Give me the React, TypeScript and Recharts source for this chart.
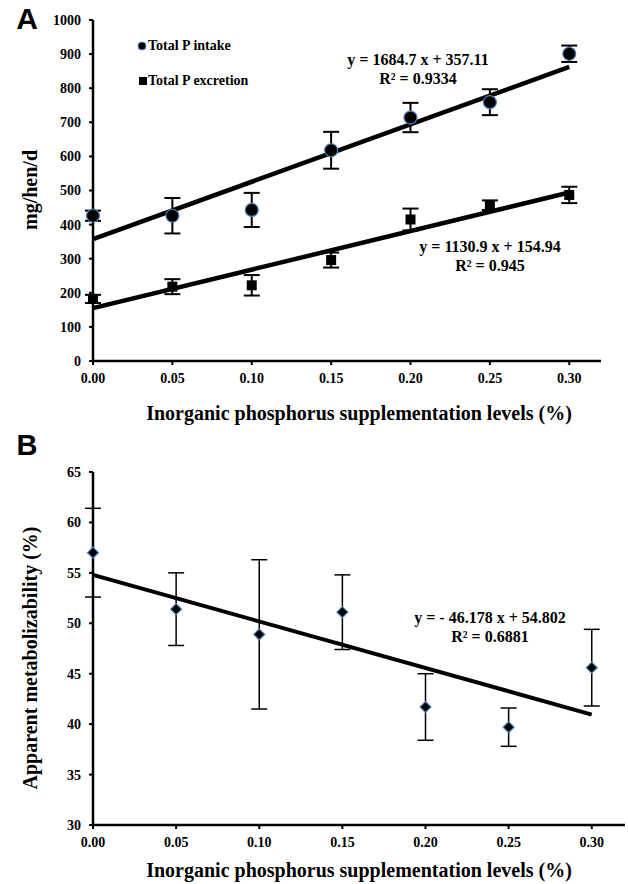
import React from "react";
import { ScatterChart, Scatter, XAxis, YAxis, ErrorBar } from "recharts";

// supplementation levels (%)
const levels = [0, 0.05, 0.1, 0.15, 0.2, 0.25, 0.3];
const xTicks = [0, 0.05, 0.1, 0.15, 0.2, 0.25, 0.3];

// panel A: mg/hen/d
const intakeMean = [426, 426, 443, 618, 714, 759, 901];
const intakeErr = [15, 52, 50, 54, 43, 38, 24];
const excretionMean = [182, 218, 222, 296, 415, 457, 487];
const excretionErr = [12, 22, 30, 22, 32, 14, 24];
const yTicksA = [0, 100, 200, 300, 400, 500, 600, 700, 800, 900, 1000];

// panel B: apparent metabolizability (%)
const amMean = [57.0, 51.4, 48.9, 51.1, 41.7, 39.7, 45.6];
const amErr = [4.4, 3.6, 7.4, 3.7, 3.3, 1.9, 3.8];
const yTicksB = [30, 35, 40, 45, 50, 55, 60, 65];

// linear trendline end points (from the printed equations)
const trendX = [0, 0.3];
const intakeTrend = [357.11, 862.52];
const excretionTrend = [154.94, 494.21];
const amTrend = [54.802, 40.949];

const toRows = (ys: number[], errs?: number[], xs: number[] = levels) =>
  xs.map((x, i) => ({ x, y: ys[i], err: errs ? errs[i] : 0 }));

const intakeData = toRows(intakeMean, intakeErr);
const excretionData = toRows(excretionMean, excretionErr);
const amData = toRows(amMean, amErr);
const intakeLine = toRows(intakeTrend, undefined, trendX);
const excretionLine = toRows(excretionTrend, undefined, trendX);
const amLine = toRows(amTrend, undefined, trendX);

const serif = '"Liberation Serif", "Times New Roman", serif';
const sans = '"Liberation Sans", Arial, sans-serif';
const edge = "#4f81bd";

const tickStyle = { fill: "#000", fontSize: 14, fontWeight: 700, fontFamily: serif };
const axisLine = { stroke: "#000", strokeWidth: 2.5 };
const tickLine = { stroke: "#000", strokeWidth: 2 };

const Circle = (p: any) => (
  <circle cx={p.cx} cy={p.cy} r={6.5} fill="#000" stroke={edge} strokeWidth={1.2} />
);
const Square = (p: any) => <rect x={p.cx - 5} y={p.cy - 5} width={10} height={10} fill="#000" />;
const Diamond = (p: any) => (
  <polygon
    points={`${p.cx},${p.cy - 5.5} ${p.cx + 5.5},${p.cy} ${p.cx},${p.cy + 5.5} ${p.cx - 5.5},${p.cy}`}
    fill="#000"
    stroke={edge}
    strokeWidth={1.2}
  />
);
const NoDot = () => <g />;

const Txt = ({ x, y, size, children, bold = true, font = serif }: any) => (
  <div
    style={{
      position: "absolute",
      left: x,
      top: y,
      transform: "translate(-50%, -50%)",
      fontFamily: font,
      fontSize: size,
      fontWeight: bold ? 700 : 400,
      lineHeight: 1,
      whiteSpace: "nowrap",
      color: "#000",
    }}
  >
    {children}
  </div>
);

const VTxt = ({ x, y, size, children }: any) => (
  <div
    style={{
      position: "absolute",
      left: x,
      top: y,
      transform: "translate(-50%, -50%) rotate(-90deg)",
      fontFamily: serif,
      fontSize: size,
      fontWeight: 700,
      lineHeight: 1,
      whiteSpace: "nowrap",
      color: "#000",
    }}
  >
    {children}
  </div>
);

const fmtX = (v: number) => v.toFixed(2);

export default function App() {
  return (
    <div style={{ position: "absolute", left: 0, top: 0, width: 628, height: 884, background: "#fff" }}>
      {/* Panel A */}
      <div style={{ position: "absolute", left: 0, top: 0 }}>
        <ScatterChart width={628} height={440} margin={{ top: 20, right: 27, bottom: 49, left: 13 }}>
          <XAxis
            type="number"
            dataKey="x"
            domain={[0, 0.32]}
            ticks={xTicks}
            tickFormatter={fmtX}
            tick={tickStyle}
            axisLine={axisLine}
            tickLine={tickLine}
            tickSize={4}
            tickMargin={8}
            height={30}
          />
          <YAxis
            type="number"
            dataKey="y"
            domain={[0, 1000]}
            ticks={yTicksA}
            tick={tickStyle}
            axisLine={axisLine}
            tickLine={tickLine}
            tickSize={4}
            tickMargin={8}
            width={80}
          />
          <Scatter data={intakeLine} shape={NoDot} line={{ stroke: "#000", strokeWidth: 4.5 }} isAnimationActive={false} />
          <Scatter data={excretionLine} shape={NoDot} line={{ stroke: "#000", strokeWidth: 4.5 }} isAnimationActive={false} />
          <Scatter data={intakeData} shape={Circle} isAnimationActive={false}>
            <ErrorBar dataKey="err" direction="y" width={8} stroke="#000" strokeWidth={2} />
          </Scatter>
          <Scatter data={excretionData} shape={Square} isAnimationActive={false}>
            <ErrorBar dataKey="err" direction="y" width={8} stroke="#000" strokeWidth={2} />
          </Scatter>
        </ScatterChart>
      </div>

      {/* Panel B */}
      <div style={{ position: "absolute", left: 0, top: 440 }}>
        <ScatterChart width={628} height={444} margin={{ top: 32, right: 3, bottom: 29, left: 13 }}>
          <XAxis
            type="number"
            dataKey="x"
            domain={[0, 0.32]}
            ticks={xTicks}
            tickFormatter={fmtX}
            tick={tickStyle}
            axisLine={axisLine}
            tickLine={tickLine}
            tickSize={4}
            tickMargin={8}
            height={30}
          />
          <YAxis
            type="number"
            dataKey="y"
            domain={[30, 65]}
            ticks={yTicksB}
            tick={tickStyle}
            axisLine={axisLine}
            tickLine={tickLine}
            tickSize={4}
            tickMargin={8}
            width={80}
          />
          <Scatter data={amLine} shape={NoDot} line={{ stroke: "#000", strokeWidth: 4 }} isAnimationActive={false} />
          <Scatter data={amData} shape={Diamond} isAnimationActive={false}>
            <ErrorBar dataKey="err" direction="y" width={8} stroke="#000" strokeWidth={1.5} />
          </Scatter>
        </ScatterChart>
      </div>

      {/* panel letters */}
      <Txt x={27} y={19} size={30} font={sans}>A</Txt>
      <Txt x={27} y={445} size={29} font={sans}>B</Txt>

      {/* legend A */}
      <svg style={{ position: "absolute", left: 134, top: 38 }} width={14} height={52}>
        <circle cx={8} cy={8} r={4} fill="#000" stroke={edge} strokeWidth={1} />
        <rect x={5} y={39} width={8} height={8} fill="#000" />
      </svg>
      <div style={{ position: "absolute", left: 148, top: 38, fontFamily: serif, fontSize: 14, fontWeight: 700, lineHeight: "16px", whiteSpace: "nowrap" }}>
        Total P intake
      </div>
      <div style={{ position: "absolute", left: 148, top: 73, fontFamily: serif, fontSize: 14, fontWeight: 700, lineHeight: "16px", whiteSpace: "nowrap" }}>
        Total P excretion
      </div>

      {/* trendline equations */}
      <Txt x={418} y={60} size={16}>y = 1684.7 x + 357.11</Txt>
      <Txt x={418} y={79} size={16}>R² = 0.9334</Txt>
      <Txt x={490} y={247} size={16}>y = 1130.9 x + 154.94</Txt>
      <Txt x={490} y={266} size={16}>R² = 0.945</Txt>
      <Txt x={490} y={618} size={16}>y = - 46.178 x + 54.802</Txt>
      <Txt x={490} y={637} size={16}>R² = 0.6881</Txt>

      {/* axis titles */}
      <VTxt x={30} y={190} size={20}>mg/hen/d</VTxt>
      <Txt x={359} y={413} size={20}>Inorganic phosphorus supplementation levels (%)</Txt>
      <VTxt x={30} y={658} size={20}>Apparent metabolizability (%)</VTxt>
      <Txt x={359} y={870} size={20}>Inorganic phosphorus supplementation levels (%)</Txt>
    </div>
  );
}
